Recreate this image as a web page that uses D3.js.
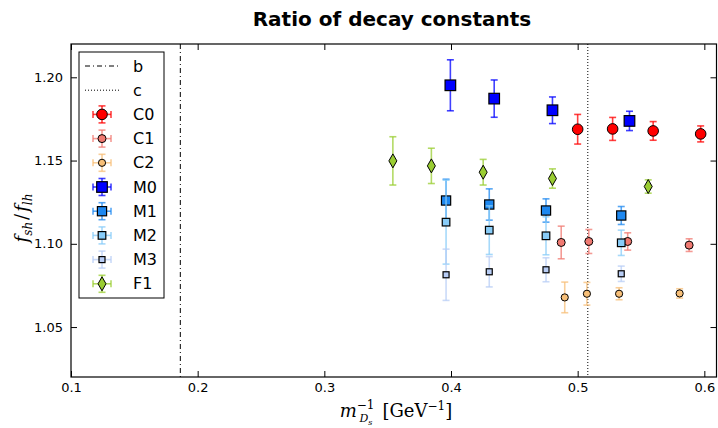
<!DOCTYPE html>
<html>
<head>
<meta charset="utf-8">
<script src="https://cdn.jsdelivr.net/npm/d3@7"></script>
<style>
  body { margin: 0; background: #fff; }
  svg text { font-family: "DejaVu Sans", sans-serif; }
</style>
</head>
<body>
<div id="chart"></div>
<script>
// values
var seriesNames = ["C0", "C1", "C2", "M0", "M1", "M2", "M3", "F1"];

var xC0 = [0.5000, 0.5276, 0.5596, 0.5971];
var yC0 = [1.1688, 1.1690, 1.1678, 1.1660];
var eC0 = [0.0089, 0.0069, 0.0056, 0.0048];

var xC1 = [0.4870, 0.5088, 0.5395, 0.5880];
var yC1 = [1.1008, 1.1014, 1.1014, 1.0992];
var eC1 = [0.0098, 0.0072, 0.0052, 0.0038];

var xC2 = [0.4898, 0.5073, 0.5327, 0.5805];
var yC2 = [1.0678, 1.0700, 1.0700, 1.0702];
var eC2 = [0.0092, 0.0068, 0.0036, 0.0028];

var xM0 = [0.3995, 0.4341, 0.4801, 0.5409];
var yM0 = [1.1952, 1.1872, 1.1802, 1.1738];
var eM0 = [0.0153, 0.0112, 0.0080, 0.0058];

var xM = [0.3961, 0.4302, 0.4750, 0.5344];
var yM1 = [1.1260, 1.1236, 1.1200, 1.1170];
var eM1 = [0.0128, 0.0094, 0.0070, 0.0054];
var yM2 = [1.1130, 1.1082, 1.1048, 1.1006];
var eM2 = [0.0252, 0.0146, 0.0114, 0.0076];
var yM3 = [1.0814, 1.0832, 1.0844, 1.0820];
var eM3 = [0.0154, 0.0091, 0.0072, 0.0046];

var xF1 = [0.3541, 0.3845, 0.4254, 0.4801, 0.5557];
var yF1 = [1.1498, 1.1468, 1.1430, 1.1392, 1.1344];
var eF1 = [0.0145, 0.0106, 0.0077, 0.0058, 0.0040];

var xTicks = [0.1, 0.2, 0.3, 0.4, 0.5, 0.6];
var yTicks = [1.05, 1.10, 1.15, 1.20];
var xB = 0.1863, xC = 0.508;   // 1/m_Bs, 1/m_Ds

var svgWidth = 718, svgHeight = 428;
var margin = {top: 44, right: 1, bottom: 51, left: 71};
var width = svgWidth - margin.left - margin.right;
var height = svgHeight - margin.top - margin.bottom;

var svg = d3.select("#chart").append("svg")
  .attr("width", svgWidth)
  .attr("height", svgHeight);

var x = d3.scaleLinear().domain([0.1, 0.61]).range([0, width]);
var y = d3.scaleLinear().domain([1.02, 1.22]).range([height, 0]);

var g = svg.append("g").attr("transform", `translate(${margin.left}, ${margin.top})`);

// styles per series
var styles = {
  C0: {xs: xC0, ys: yC0, es: eC0, color: "#ff0000", shape: "circle", size: 5.3},
  C1: {xs: xC1, ys: yC1, es: eC1, color: "#f07a72", shape: "circle", size: 4},
  C2: {xs: xC2, ys: yC2, es: eC2, color: "#f7bf78", shape: "circle", size: 3.6},
  M0: {xs: xM0, ys: yM0, es: eM0, color: "#0000ff", shape: "square", size: 5.3},
  M1: {xs: xM, ys: yM1, es: eM1, color: "#1e88f0", shape: "square", size: 4.6},
  M2: {xs: xM, ys: yM2, es: eM2, color: "#88ccf8", shape: "square", size: 3.8},
  M3: {xs: xM, ys: yM3, es: eM3, color: "#b8cdf5", shape: "square", size: 3},
  F1: {xs: xF1, ys: yF1, es: eF1, color: "#9acd32", shape: "diamond", size: 4}
};

function drawMarker(sel, st, cx, cy) {
  if (st.shape === "circle") {
    sel.append("circle").attr("cx", cx).attr("cy", cy).attr("r", st.size)
      .attr("fill", st.color).attr("stroke", "#000").attr("stroke-width", 1);
  } else if (st.shape === "square") {
    var s = st.size;
    sel.append("rect").attr("x", cx - s).attr("y", cy - s).attr("width", 2 * s).attr("height", 2 * s)
      .attr("fill", st.color).attr("stroke", "#000").attr("stroke-width", 1.2);
  } else {
    var w = st.size, h = st.size * 1.75;
    sel.append("path")
      .attr("d", `M${cx},${cy - h}L${cx + w},${cy}L${cx},${cy + h}L${cx - w},${cy}Z`)
      .attr("fill", st.color).attr("stroke", "#000").attr("stroke-width", 1);
  }
}

var cap = 3.5;

// reference lines
g.append("line").attr("x1", x(xB)).attr("x2", x(xB)).attr("y1", 0).attr("y2", height)
  .attr("stroke", "#000").attr("stroke-width", 1).attr("stroke-dasharray", "5,3,1,3");
g.append("line").attr("x1", x(xC)).attr("x2", x(xC)).attr("y1", 0).attr("y2", height)
  .attr("stroke", "#000").attr("stroke-width", 1).attr("stroke-dasharray", "1,2");

// error bars + markers
seriesNames.forEach(function(name) {
  var st = styles[name];
  var pts = st.xs.map(function(v, i) { return {x: v, y: st.ys[i], e: st.es[i]}; });
  var sg = g.append("g").attr("class", "series " + name);
  var eb = sg.append("g").attr("stroke", st.color).attr("stroke-opacity", 0.75).attr("stroke-width", 1.6);
  pts.forEach(function(d) {
    var px = x(d.x), y0 = y(d.y - d.e), y1 = y(d.y + d.e);
    eb.append("line").attr("x1", px).attr("x2", px).attr("y1", y0).attr("y2", y1);
    eb.append("line").attr("x1", px - cap).attr("x2", px + cap).attr("y1", y0).attr("y2", y0);
    eb.append("line").attr("x1", px - cap).attr("x2", px + cap).attr("y1", y1).attr("y2", y1);
  });
  pts.forEach(function(d) { drawMarker(sg, st, x(d.x), y(d.y)); });
});

// axes, ticks pointing inward on all four sides
var xAxisB = d3.axisBottom(x).tickValues(xTicks).tickSize(-6).tickPadding(6).tickFormat(d3.format(".1f"));
var xAxisT = d3.axisTop(x).tickValues(xTicks).tickSize(-6).tickFormat("");
var yAxisL = d3.axisLeft(y).tickValues(yTicks).tickSize(-6).tickPadding(8).tickFormat(d3.format(".2f"));
var yAxisR = d3.axisRight(y).tickValues(yTicks).tickSize(-6).tickFormat("");

g.append("g").attr("transform", `translate(0, ${height})`).call(xAxisB);
g.append("g").call(xAxisT);
g.append("g").call(yAxisL);
g.append("g").attr("transform", `translate(${width - 0.5}, 0)`).call(yAxisR);

g.selectAll(".domain").remove();
g.selectAll(".tick line").attr("stroke", "#000").attr("stroke-width", 1);
g.selectAll(".tick text").attr("font-size", 13).attr("fill", "#000")
  .style("font-family", "DejaVu Sans, sans-serif");

g.append("rect").attr("x", 0).attr("y", 0).attr("width", width - 0.5).attr("height", height)
  .attr("fill", "none").attr("stroke", "#000").attr("stroke-width", 1.2);

// legend
var lg = svg.append("g").attr("transform", "translate(79, 52)");
lg.append("rect").attr("width", 85).attr("height", 246)
  .attr("fill", "#fff").attr("stroke", "#000").attr("stroke-width", 1);
var rowY = function(i) { return 14 + i * 24.2; };
var lineItems = [{label: "b", dash: "5,3,1,3"}, {label: "c", dash: "1,2"}];
lineItems.forEach(function(it, i) {
  lg.append("line").attr("x1", 6).attr("x2", 41).attr("y1", rowY(i)).attr("y2", rowY(i))
    .attr("stroke", "#000").attr("stroke-width", 1).attr("stroke-dasharray", it.dash);
  lg.append("text").attr("x", 54).attr("y", rowY(i) + 5.5).attr("font-size", 16).text(it.label);
});
seriesNames.forEach(function(name, k) {
  var st = styles[name];
  var cy = rowY(k + 2), cx = 23;
  var eb = lg.append("g").attr("stroke", st.color).attr("stroke-opacity", 0.75).attr("stroke-width", 1.6);
  eb.append("line").attr("x1", cx).attr("x2", cx).attr("y1", cy - 8.5).attr("y2", cy + 8.5);
  eb.append("line").attr("x1", cx - cap).attr("x2", cx + cap).attr("y1", cy - 8.5).attr("y2", cy - 8.5);
  eb.append("line").attr("x1", cx - cap).attr("x2", cx + cap).attr("y1", cy + 8.5).attr("y2", cy + 8.5);
  eb.append("line").attr("x1", cx - 9).attr("x2", cx + 9).attr("y1", cy).attr("y2", cy);
  eb.append("line").attr("x1", cx - 9).attr("x2", cx - 9).attr("y1", cy - cap).attr("y2", cy + cap);
  eb.append("line").attr("x1", cx + 9).attr("x2", cx + 9).attr("y1", cy - cap).attr("y2", cy + cap);
  drawMarker(lg, st, cx, cy);
  lg.append("text").attr("x", 54).attr("y", cy + 5.5).attr("font-size", 16).text(name);
});

// title
svg.append("text").attr("x", margin.left + width / 2 - 2).attr("y", 26)
  .attr("text-anchor", "middle").attr("font-size", 20).attr("font-weight", "bold")
  .text("Ratio of decay constants");

// x label: m_{D_s}^{-1} [GeV^{-1}]
var xl = svg.append("text").attr("x", margin.left + width / 2 + 2).attr("y", 417)
  .attr("text-anchor", "middle").attr("font-size", 18)
  .style("font-family", "DejaVu Serif, serif");
xl.append("tspan").attr("font-style", "italic").text("m");
xl.append("tspan").attr("font-size", 12).attr("dy", -8).text("\u22121");
xl.append("tspan").attr("font-size", 11).attr("font-style", "italic").attr("dx", -15).attr("dy", 13).text("D");
xl.append("tspan").attr("font-size", 8).attr("font-style", "italic").attr("dy", 3).text("s");
xl.append("tspan").attr("dy", -8).attr("dx", 10).text("[GeV");
xl.append("tspan").attr("font-size", 12).attr("dy", -7).text("\u22121");
xl.append("tspan").attr("dy", 7).text("]");

// y label: f_sh / f_lh
var yl = svg.append("text").attr("transform", "translate(28, 218) rotate(-90)")
  .attr("text-anchor", "middle").attr("font-size", 18)
  .style("font-family", "DejaVu Serif, serif");
yl.append("tspan").attr("font-style", "italic").text("f");
yl.append("tspan").attr("font-style", "italic").attr("font-size", 12).attr("dy", 4).text("sh");
yl.append("tspan").attr("dy", -4).attr("dx", 2).text("/");
yl.append("tspan").attr("font-style", "italic").attr("dx", 2).text("f");
yl.append("tspan").attr("font-style", "italic").attr("font-size", 12).attr("dy", 4).text("lh");
</script>
</body>
</html>
